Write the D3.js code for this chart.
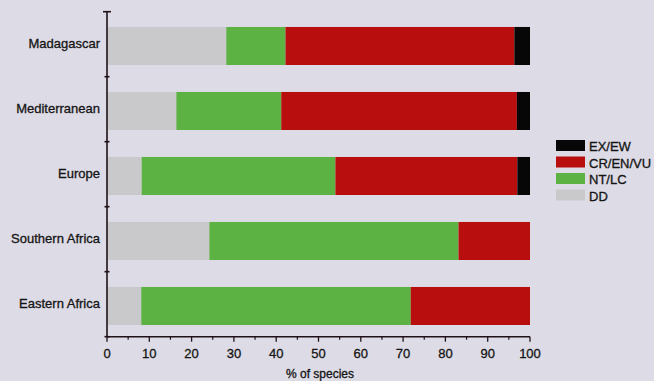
<!DOCTYPE html>
<html>
<head>
<meta charset="utf-8">
<script src="https://cdn.jsdelivr.net/npm/d3@7"></script>
<style>
  html, body { margin: 0; padding: 0; background: #dddbe5; }
  svg { display: block; font-family: Arial, "Liberation Sans", sans-serif; }
  svg text { fill: #141414; stroke: #141414; stroke-width: 0.3px; }
</style>
</head>
<body>
<svg id="chart" width="654" height="381"></svg>
<script>
// Regions, top to bottom
const regions = ["Madagascar", "Mediterranean", "Europe", "Southern Africa", "Eastern Africa"];
// Threat categories, stacked left to right
const categories = ["DD", "NT/LC", "CR/EN/VU", "EX/EW"];
// Percent of species in each category per region
const dd      = [28.2, 16.4, 8.2, 24.2, 8.1];
const ntlc    = [14.0, 24.8, 45.8, 58.9, 63.7];
const crenvu  = [54.1, 55.7, 43.0, 16.9, 28.2];
const exew    = [3.7, 3.1, 3.0, 0.0, 0.0];
const xTicks  = [0, 10, 20, 30, 40, 50, 60, 70, 80, 90, 100];
const legendOrder = ["EX/EW", "CR/EN/VU", "NT/LC", "DD"];

const colors = {
  "DD": "#c9c9cb",
  "NT/LC": "#5cb242",
  "CR/EN/VU": "#b80e0e",
  "EX/EW": "#070707"
};

const rows = regions.map((r, i) => ({
  region: r, "DD": dd[i], "NT/LC": ntlc[i], "CR/EN/VU": crenvu[i], "EX/EW": exew[i]
}));

const svg = d3.select("#chart");
const mLeft = 107, mRight = 530, mTop = 11.7, mBottom = 336.7;

const x = d3.scaleLinear().domain([0, 100]).range([mLeft, mRight]);
const y = d3.scaleBand().domain(regions).range([mTop, mBottom]).padding(0);
const barOffset = y.bandwidth() * 0.235;
const barH = y.bandwidth() * 0.585;

const stack = d3.stack().keys(categories)(rows);

svg.append("g")
  .selectAll("g")
  .data(stack)
  .join("g")
    .attr("fill", d => colors[d.key])
  .selectAll("rect")
  .data(d => d)
  .join("rect")
    .attr("x", d => x(d[0]))
    .attr("width", d => Math.max(0, x(d[1]) - x(d[0])))
    .attr("y", d => y(d.data.region) + barOffset)
    .attr("height", barH);

const axisColor = "#1e1216";

// x axis with major ticks every 10 and minor ticks every 5
const xAxis = svg.append("g").attr("transform", `translate(0,${mBottom})`);
xAxis.append("line")
  .attr("x1", mLeft).attr("x2", mRight)
  .attr("stroke", axisColor).attr("stroke-width", 1.6);
xAxis.selectAll(".minor")
  .data(d3.range(5, 100, 10))
  .join("line")
    .attr("class", "minor")
    .attr("x1", d => x(d)).attr("x2", d => x(d))
    .attr("y1", 0).attr("y2", 3)
    .attr("stroke", axisColor).attr("stroke-width", 1.2);
xAxis.selectAll(".major")
  .data(xTicks)
  .join("line")
    .attr("class", "major")
    .attr("x1", d => x(d)).attr("x2", d => x(d))
    .attr("y1", 0).attr("y2", 5)
    .attr("stroke", axisColor).attr("stroke-width", 1.3);
xAxis.selectAll("text")
  .data(xTicks)
  .join("text")
    .attr("x", d => x(d))
    .attr("y", 21.5)
    .attr("text-anchor", "middle")
    .attr("font-size", 13)
    .text(d => d);

svg.append("text")
  .attr("x", 320)
  .attr("y", 377.5)
  .attr("text-anchor", "middle")
  .attr("font-size", 12)
  .text("% of species");

// y axis with ticks at band boundaries
const yAxis = svg.append("g");
yAxis.append("line")
  .attr("x1", mLeft).attr("x2", mLeft)
  .attr("y1", mTop).attr("y2", mBottom)
  .attr("stroke", axisColor).attr("stroke-width", 1.6);
const bounds = regions.map(r => y(r)).concat([mBottom]);
yAxis.selectAll(".bound")
  .data(bounds)
  .join("line")
    .attr("class", "bound")
    .attr("x1", (d, i) => i === 0 ? mLeft - 4 : mLeft - 2.5)
    .attr("x2", (d, i) => i === 0 ? mLeft + 4 : mLeft + 2.5)
    .attr("y1", d => d).attr("y2", d => d)
    .attr("stroke", axisColor).attr("stroke-width", 1.6);
yAxis.selectAll("text")
  .data(regions)
  .join("text")
    .attr("x", mLeft - 7)
    .attr("y", d => y(d) + barOffset + barH / 2 + 2)
    .attr("text-anchor", "end")
    .attr("font-size", 13)
    .text(d => d);

// legend
const legend = svg.append("g").attr("transform", "translate(556,140)");
const lg = legend.selectAll("g")
  .data(legendOrder)
  .join("g")
    .attr("transform", (d, i) => `translate(0,${i * 16.5})`);
lg.append("rect")
  .attr("width", 29).attr("height", 11)
  .attr("fill", d => colors[d]);
lg.append("text")
  .attr("x", 33).attr("y", 11)
  .attr("font-size", 13)
  .text(d => d);
</script>
</body>
</html>
